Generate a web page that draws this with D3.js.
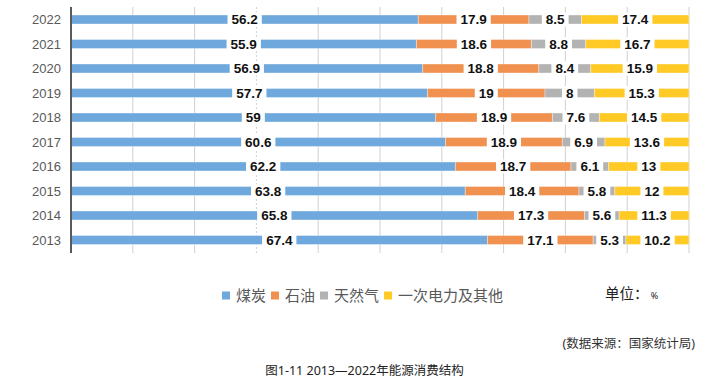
<!DOCTYPE html>
<html>
<head>
<meta charset="utf-8">
<script src="https://cdn.jsdelivr.net/npm/d3@7"></script>
<style>
  body { margin: 0; background: #fff; }
  svg { display: block; }
</style>
</head>
<body>
<div id="chart"></div>
<script>
// data (%)
const years = ["2022", "2021", "2020", "2019", "2018", "2017", "2016", "2015", "2014", "2013"];
const coal  = [56.2, 55.9, 56.9, 57.7, 59, 60.6, 62.2, 63.8, 65.8, 67.4];
const oil   = [17.9, 18.6, 18.8, 19, 18.9, 18.9, 18.7, 18.4, 17.3, 17.1];
const gas   = [8.5, 8.8, 8.4, 8, 7.6, 6.9, 6.1, 5.8, 5.6, 5.3];
const other = [17.4, 16.7, 15.9, 15.3, 14.5, 13.6, 13, 12, 11.3, 10.2];
const seriesNames = ["煤炭", "石油", "天然气", "一次电力及其他"];
const xTicks = [0, 10, 20, 30, 40, 50, 60, 70, 80, 90, 100];

const colors = ["#6fa8dc", "#f0914f", "#b3b3b3", "#ffc926"];

const width = 710, height = 386;
const cjk = "'Noto Sans', 'Noto Sans CJK SC', sans-serif";

const svg = d3.select("#chart").append("svg")
    .attr("width", width)
    .attr("height", height);

// scales
const x = d3.scaleLinear().domain([0, 100]).range([71, 689]);
const y = d3.scaleBand()
    .domain(years)
    .range([7.25, 252.25])
    .paddingInner(0.633)
    .paddingOuter(0.3165);

// build rows for stacking
const rows = years.map((yr, i) => ({
    year: yr, "煤炭": coal[i], "石油": oil[i], "天然气": gas[i], "一次电力及其他": other[i]
}));
const stacked = d3.stack().keys(seriesNames)(rows);

// gridlines
svg.append("g")
    .selectAll("line")
    .data(xTicks.slice(1))
    .enter().append("line")
    .attr("x1", d => x(d)).attr("x2", d => x(d))
    .attr("y1", 7).attr("y2", 253)
    .attr("stroke", "#d0d0d0")
    .attr("stroke-width", 1)
    .attr("stroke-dasharray", d => d === 30 ? "2,2" : null);

// bars
const layers = svg.append("g")
    .selectAll("g")
    .data(stacked)
    .enter().append("g")
    .attr("fill", (d, i) => colors[i]);

layers.selectAll("rect")
    .data(d => d)
    .enter().append("rect")
    .attr("x", d => x(d[0]))
    .attr("y", d => y(d.data.year))
    .attr("width", d => x(d[1]) - x(d[0]))
    .attr("height", y.bandwidth())
    .attr("stroke", "#fff")
    .attr("stroke-opacity", 0.35)
    .attr("stroke-width", 1);

// value labels with white boxes
const labelG = svg.append("g");
stacked.forEach(layer => {
    layer.forEach(d => {
        const cx = (x(d[0]) + x(d[1])) / 2;
        const cy = y(d.data.year) + y.bandwidth() / 2;
        const g = labelG.append("g");
        const box = g.append("rect").attr("fill", "#fff");
        const t = g.append("text")
            .attr("x", cx)
            .attr("y", cy)
            .attr("dy", "0.36em")
            .attr("text-anchor", "middle")
            .style("font-family", "'Liberation Sans', Arial, sans-serif")
            .style("font-weight", "bold")
            .style("font-size", "13.5px")
            .attr("fill", "#111")
            .text(d.data[layer.key]);
        const w = t.node().getComputedTextLength() + 8;
        box.attr("x", cx - w / 2)
            .attr("y", cy - 7)
            .attr("width", w)
            .attr("height", 14);
    });
});

// y axis
const yAxis = svg.append("g");
yAxis.append("line")
    .attr("x1", 71).attr("x2", 71)
    .attr("y1", 7).attr("y2", 253)
    .attr("stroke", "#595959")
    .attr("stroke-width", 2);

yAxis.selectAll("text")
    .data(years)
    .enter().append("text")
    .attr("x", 61)
    .attr("y", d => y(d) + y.bandwidth() / 2)
    .attr("dy", "0.36em")
    .attr("text-anchor", "end")
    .style("font-family", "'Liberation Sans', Arial, sans-serif")
    .style("font-size", "13px")
    .attr("fill", "#595959")
    .text(d => d);

// legend
const legend = svg.append("g").attr("transform", "translate(222, 295.5)");
let lx = 0;
seriesNames.forEach((name, i) => {
    legend.append("rect")
        .attr("x", lx).attr("y", -4)
        .attr("width", 8).attr("height", 8)
        .attr("fill", colors[i]);
    const t = legend.append("text")
        .attr("x", lx + 14)
        .attr("dy", "0.36em")
        .style("font-family", cjk)
        .style("font-size", "15px")
        .attr("fill", "#595959")
        .text(name);
    lx += 14 + t.node().getComputedTextLength() + 5;
});

// unit
svg.append("text")
    .attr("x", 605).attr("y", 294)
    .attr("dy", "0.36em")
    .style("font-family", cjk)
    .style("font-size", "14.5px")
    .attr("fill", "#222")
    .text("单位：")
    .append("tspan")
    .style("font-size", "9px")
    .text(" %");

// source
svg.append("text")
    .attr("x", 695).attr("y", 343)
    .attr("dy", "0.36em")
    .attr("text-anchor", "end")
    .style("font-family", cjk)
    .style("font-size", "12.5px")
    .attr("fill", "#333")
    .text("(数据来源：国家统计局)");

// caption
svg.append("text")
    .attr("x", 364.5).attr("y", 370)
    .attr("dy", "0.36em")
    .attr("text-anchor", "middle")
    .style("font-family", cjk)
    .style("font-size", "12.5px")
    .attr("fill", "#222")
    .text("图1-11 2013—2022年能源消费结构");
</script>
</body>
</html>
